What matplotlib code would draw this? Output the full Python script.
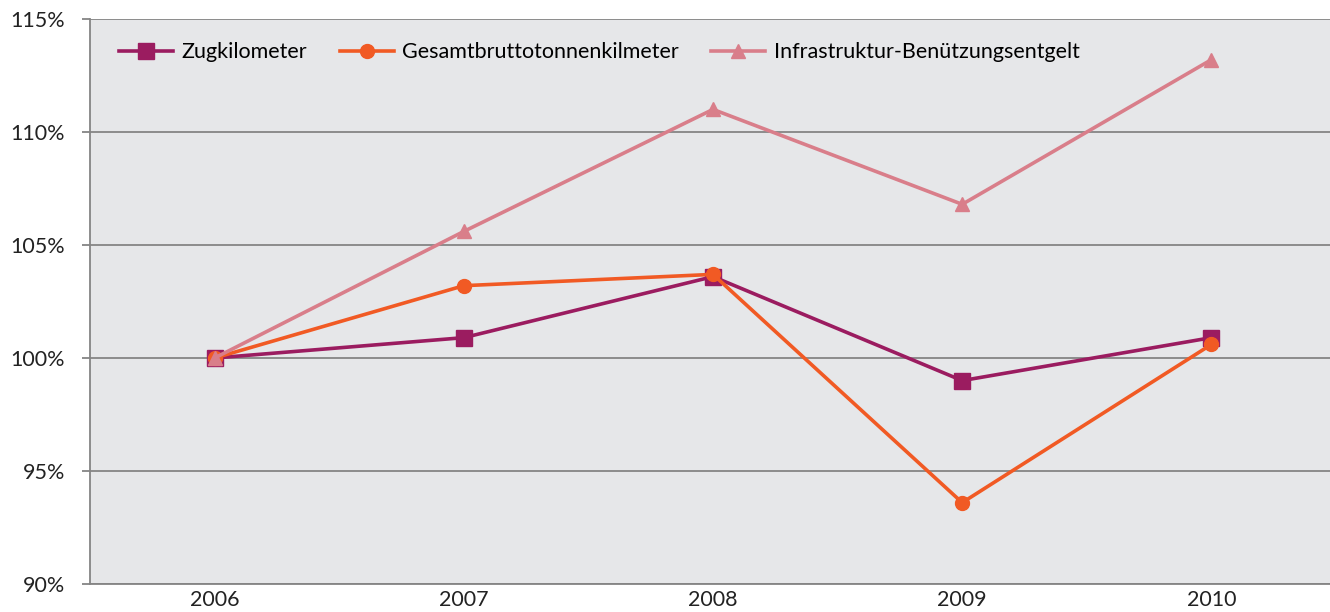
import matplotlib as mpl
import matplotlib.pyplot as plt
import numpy as np

years = ['2006', '2007', '2008', '2009', '2010']
zugkilometer = [100.0, 100.9, 103.6, 99.0, 100.9]
gesamtbrutto = [100.0, 103.2, 103.7, 93.6, 100.6]
infrastruktur = [100.0, 105.6, 111.0, 106.8, 113.2]

labels = ['Zugkilometer', 'Gesamtbruttotonnenkilmeter', 'Infrastruktur-Benützungsentgelt']
colors = ['#9B1C60', '#F15A24', '#D97E8A']
markers = ['s', 'o', '^']
msizes = [11, 10, 10]


def main():
    mpl.rcParams.update({'font.family': ['Lato', 'DejaVu Sans'], 'font.size': 15.5})

    fig = plt.figure(figsize=(13.3, 6.12), dpi=100)
    ax = fig.add_axes([90 / 1330, 28 / 612, 1246 / 1330, 565 / 612])
    ax.set_facecolor('#E6E7E9')

    X = np.arange(len(years))
    series = [zugkilometer, gesamtbrutto, infrastruktur]
    zorders = [3, 4, 5]
    for i in range(3):
        ax.plot(X, series[i], color=colors[i], marker=markers[i], markersize=msizes[i],
                linewidth=2.6, label=labels[i], zorder=zorders[i])

    ax.set_xlim(-0.5, len(years) - 0.5)
    ax.set_ylim(90, 115)
    ax.set_yticks(np.arange(90, 116, 5))
    ax.set_yticklabels([f'{v}%' for v in range(90, 116, 5)])
    ax.set_xticks(X)
    ax.set_xticklabels(years)

    ax.grid(axis='y', color='#858585', linewidth=1.3, zorder=1)
    ax.set_axisbelow(True)
    for s in ['top', 'right']:
        ax.spines[s].set_visible(False)
    for s in ['left', 'bottom']:
        ax.spines[s].set_color('#858585')
        ax.spines[s].set_linewidth(1.3)
    ax.tick_params(axis='y', length=6, color='#858585', width=1.3, pad=12, labelcolor='#222222')
    ax.tick_params(axis='x', length=0, pad=4, labelcolor='#222222')

    ax.legend(loc='upper left', ncol=3, frameon=False, bbox_to_anchor=(0.008, 0.993),
              handlelength=2.5, columnspacing=1.5, handletextpad=0.4, fontsize=15.5)

    plt.savefig('out.png')


if __name__ == '__main__':
    main()
